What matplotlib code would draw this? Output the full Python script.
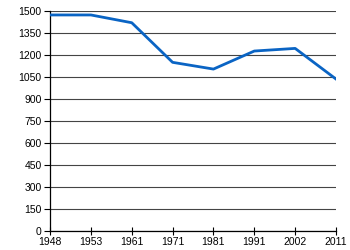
import matplotlib
matplotlib.use('Agg')
import matplotlib.pyplot as plt

# data
years = ['1948', '1953', '1961', '1971', '1981', '1991', '2002', '2011']
population = [1473, 1473, 1420, 1150, 1104, 1227, 1245, 1036]
yticks = list(range(0, 1501, 150))

plt.rcParams['font.family'] = ['Liberation Sans', 'DejaVu Sans']

fig = plt.figure(figsize=(3.5, 2.5), dpi=100)
ax = fig.add_axes([0.143, 0.076, 0.817, 0.88])

x = list(range(len(years)))
ax.plot(x, population, color='#0a64c4', linewidth=2.0, solid_joinstyle='round', zorder=3)

ax.set_xlim(0, len(years) - 1)
ax.set_ylim(0, 1500)
ax.set_xticks(x)
ax.set_xticklabels(years)
ax.set_yticks(yticks)

ax.grid(axis='y', color='#444444', linewidth=0.8)
ax.set_axisbelow(True)
for s in ['top', 'right']:
    ax.spines[s].set_visible(False)
ax.spines['left'].set_linewidth(0.9)
ax.spines['bottom'].set_linewidth(0.9)
ax.tick_params(axis='x', direction='inout', length=6, width=0.8, labelsize=7.5, pad=1)
ax.tick_params(axis='y', direction='out', length=4, width=0.8, labelsize=7.5, pad=2)

fig.savefig('out.png', dpi=100)
